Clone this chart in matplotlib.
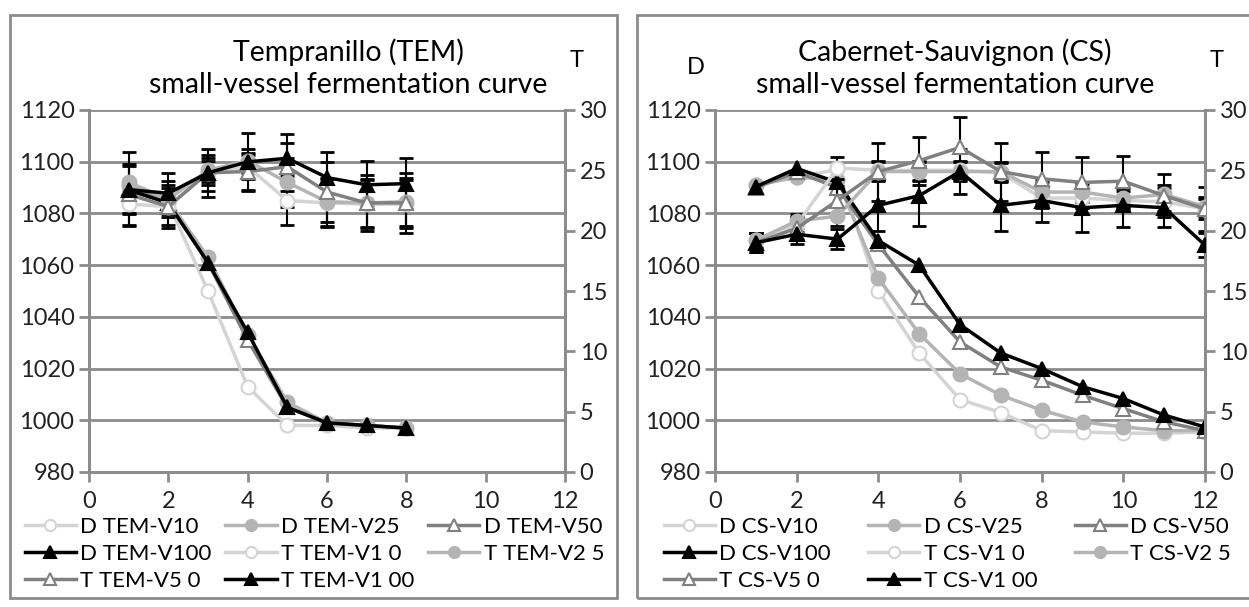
import matplotlib.pyplot as plt
from matplotlib.patches import Rectangle

plt.rcParams['font.family'] = ['Lato', 'DejaVu Sans']

# ---- Tempranillo (TEM) ----
days_tem = [1, 2, 3, 4, 5, 6, 7, 8]
d_tem_v10 = [1090, 1084, 1050, 1013, 998, 998, 997, 997]
d_tem_v25 = [1091, 1085, 1063, 1033, 1007, 999, 998, 997]
d_tem_v50 = [1090, 1084, 1061, 1031, 1005, 999, 998, 997]
d_tem_v100 = [1089, 1084, 1061, 1034, 1005, 999, 998, 997]
t_tem_v10 = [22.2, 22.0, 24.8, 25.3, 22.5, 22.3, 22.2, 22.2]
t_tem_v25 = [24.0, 22.6, 25.0, 25.8, 24.0, 22.4, 22.3, 22.4]
t_tem_v50 = [23.0, 22.0, 24.8, 24.9, 25.3, 23.2, 22.3, 22.3]
t_tem_v100 = [23.4, 23.1, 24.8, 25.7, 26.0, 24.4, 23.8, 23.9]
e_tem_v10 = [1.8, 1.5, 1.0, 1.0, 2.0, 2.0, 2.0, 2.0]
e_tem_v25 = [2.5, 1.5, 1.0, 1.0, 2.0, 2.0, 2.0, 2.0]
e_tem_v50 = [2.5, 1.8, 1.5, 1.5, 2.0, 2.5, 2.3, 2.5]
e_tem_v100 = [2.0, 1.7, 2.0, 2.4, 2.0, 2.1, 2.0, 2.1]
labels_tem = ["D TEM-V10", "D TEM-V25", "D TEM-V50", "D TEM-V100",
              "T TEM-V1 0", "T TEM-V2 5", "T TEM-V5 0", "T TEM-V1 00"]

# ---- Cabernet-Sauvignon (CS) ----
days_cs = [1, 2, 3, 4, 5, 6, 7, 8, 9, 10, 11, 12]
d_cs_v10 = [1091, 1094, 1097, 1050, 1026, 1008, 1003, 996, 995.5, 995, 995, 995.5]
d_cs_v25 = [1091, 1094, 1093, 1055, 1033.5, 1018, 1009.7, 1003.9, 999.4, 997.4, 996, 996]
d_cs_v50 = [1090, 1096, 1090, 1068, 1047.7, 1030.3, 1020.6, 1015.5, 1009.7, 1004.5, 999.4, 996]
d_cs_v100 = [1090.3, 1097.4, 1092, 1069.5, 1060, 1037, 1026, 1020, 1013, 1008.4, 1002, 997.4]
t_cs_v10 = [19.2, 20.5, 25.2, 25.0, 25.0, 25.0, 24.8, 22.7, 22.7, 22.5, 22.4, 21.8]
t_cs_v25 = [19.2, 20.8, 21.2, 24.9, 24.9, 24.9, 24.9, 23.2, 23.2, 22.7, 23.0, 22.0]
t_cs_v50 = [19.0, 20.2, 22.5, 24.9, 25.8, 26.9, 24.9, 24.3, 24.0, 24.1, 22.9, 21.8]
t_cs_v100 = [19.0, 19.7, 19.3, 22.1, 22.9, 24.9, 22.1, 22.5, 21.9, 22.1, 21.9, 18.8]
e_cs_v10 = [0.6, 0.6, 0.9, 0.8, 0.8, 0.8, 0.8, 0.8, 0.8, 0.8, 0.8, 0.8]
e_cs_v25 = [0.6, 0.6, 0.8, 0.8, 0.8, 0.8, 0.8, 0.8, 0.8, 0.8, 0.8, 0.8]
e_cs_v50 = [0.8, 0.9, 1.2, 2.4, 2.0, 2.5, 2.4, 2.2, 2.1, 2.1, 1.8, 1.8]
e_cs_v100 = [0.8, 0.8, 0.8, 2.1, 2.5, 1.9, 2.1, 1.8, 2.0, 1.8, 1.6, 1.0]
labels_cs = ["D CS-V10", "D CS-V25", "D CS-V50", "D CS-V100",
             "T CS-V1 0", "T CS-V2 5", "T CS-V5 0", "T CS-V1 00"]

# style per vessel: line colour, marker, marker face, marker edge
styles = [
    ("#d4d4d4", "o", "white", "#d4d4d4"),
    ("#b4b4b4", "o", "#b4b4b4", "#b4b4b4"),
    ("#808080", "^", "white", "#808080"),
    ("black", "^", "black", "black"),
]
grey = "#8c8c8c"

fig = plt.figure(figsize=(12.49, 6.07), dpi=100)

# panel frames
fig.patches.append(Rectangle((10 / 1249, 9 / 607), 607 / 1249, 583 / 607, transform=fig.transFigure,
                             fill=False, edgecolor=grey, linewidth=2))
fig.patches.append(Rectangle((637 / 1249, 9 / 607), 640 / 1249, 583 / 607, transform=fig.transFigure,
                             fill=False, edgecolor=grey, linewidth=2))


def panel(rect, name, days, dvals, tvals, terrs, labels, legend_box, title_x, dlabel):
    ax = fig.add_axes(rect)
    ax2 = ax.twinx()
    handles = []
    for (c, m, fc, ec), d, lab in zip(styles, dvals, labels[:4]):
        h, = ax.plot(days, d, color=c, lw=2.5, marker=m, ms=10, mfc=fc, mec=ec, mew=1.5, label=lab)
        handles.append(h)
    for (c, m, fc, ec), t, e, lab in zip(styles, tvals, terrs, labels[4:]):
        ax2.errorbar(days, t, yerr=e, fmt="none", ecolor="black", elinewidth=1.5,
                     capsize=5, capthick=2, zorder=1)
        h, = ax2.plot(days, t, color=c, lw=2.5, marker=m, ms=10, mfc=fc, mec=ec, mew=1.5,
                      label=lab, zorder=3)
        handles.append(h)

    ax.set_xlim(0, 12)
    ax.set_ylim(980, 1120)
    ax.set_yticks(range(980, 1121, 20))
    ax.set_xticks(range(0, 13, 2))
    ax2.set_ylim(0, 30)
    ax2.set_yticks(range(0, 31, 5))
    ax.grid(axis="y", color=grey, lw=2)
    ax.set_axisbelow(True)
    for a in (ax, ax2):
        for s in ["left", "right", "bottom"]:
            a.spines[s].set_color(grey)
            a.spines[s].set_linewidth(2)
        a.spines["top"].set_visible(False)
        a.tick_params(colors=grey, width=2, length=7, labelsize=17, labelcolor="#222222")
    ax.tick_params(axis="x", pad=7)

    ax.set_title(name + "\nsmall-vessel fermentation curve", fontsize=20.5, pad=12,
                 linespacing=1.3, x=title_x)
    ax2.text(1.01, 1.12, "T", transform=ax2.transAxes, fontsize=17, ha="left")
    if dlabel:
        ax.text(-0.02, 1.1, "D", transform=ax.transAxes, fontsize=17, ha="right")

    # legend filled row by row, spread across the panel width
    order = [0, 3, 6, 1, 4, 7, 2, 5]
    ax.legend([handles[i] for i in order], [labels[i] for i in order], ncol=3, frameon=False,
              loc="upper left", bbox_to_anchor=legend_box, bbox_transform=fig.transFigure,
              mode="expand", fontsize=16, handlelength=2.3, handletextpad=0.2,
              columnspacing=0.3, labelspacing=0.32, borderaxespad=0, markerscale=0.8)


panel([89 / 1249, 135 / 607, 476 / 1249, 362 / 607], "Tempranillo (TEM)", days_tem,
      [d_tem_v10, d_tem_v25, d_tem_v50, d_tem_v100],
      [t_tem_v10, t_tem_v25, t_tem_v50, t_tem_v100],
      [e_tem_v10, e_tem_v25, e_tem_v50, e_tem_v100], labels_tem,
      (16 / 1249, 0.163, 597 / 1249, 0), 0.545, False)
panel([715 / 1249, 135 / 607, 490 / 1249, 362 / 607], "Cabernet-Sauvignon (CS)", days_cs,
      [d_cs_v10, d_cs_v25, d_cs_v50, d_cs_v100],
      [t_cs_v10, t_cs_v25, t_cs_v50, t_cs_v100],
      [e_cs_v10, e_cs_v25, e_cs_v50, e_cs_v100], labels_cs,
      (655 / 1249, 0.163, 585 / 1249, 0), 0.49, True)

fig.savefig("out.png", dpi=100)
